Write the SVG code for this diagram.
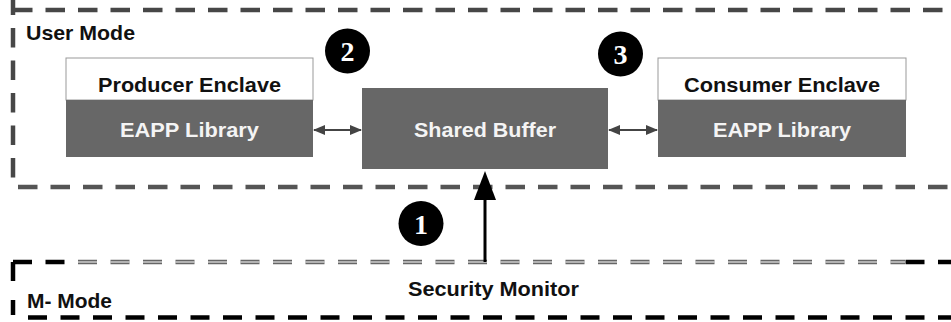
<svg xmlns="http://www.w3.org/2000/svg" width="951" height="322" viewBox="0 0 951 322">
<style>
text{font-family:"Liberation Sans",Arial,sans-serif;font-weight:bold;font-size:21px}
.dark{fill:#f4f4f4}
.title{fill:#111}
.num{font-family:"Liberation Serif","Times New Roman",serif;font-size:28px;fill:#fff}
.udash{stroke:#474747;stroke-width:4.5;stroke-dasharray:19.5 13;fill:none}
.mdash{stroke:#000;stroke-width:4.5;stroke-dasharray:19 13.5;fill:none}
.mdbl{stroke:#666;stroke-width:4.5;stroke-dasharray:19 13.5;fill:none}
.mdblin{stroke:#fff;stroke-width:1.2;stroke-dasharray:19 13.5;fill:none}
.box{fill:#676767}
.conn{stroke:#444;stroke-width:2;fill:none}
</style>
<defs>
<marker id="ah" viewBox="0 0 12 10" refX="11" refY="5" markerWidth="12" markerHeight="10" markerUnits="userSpaceOnUse" orient="auto-start-reverse">
<path d="M0,0 L12,5 L0,10 z" fill="#444"/>
</marker>
</defs>
<rect width="951" height="322" fill="#fff"/>
<g id="user-mode">
<line class="udash" x1="13" y1="10" x2="951" y2="10"/>
<line class="udash" x1="13" y1="-4.5" x2="13" y2="187"/>
<line class="udash" x1="18" y1="187" x2="951" y2="187" style="stroke:#555"/>
<text x="26" y="40" class="title" textLength="109" lengthAdjust="spacingAndGlyphs">User Mode</text>
</g>
<g id="m-mode">
<line class="mdash" x1="13" y1="262" x2="70" y2="262"/>
<line class="mdbl" x1="78" y1="262" x2="905" y2="262"/>
<line class="mdblin" x1="78" y1="262" x2="905" y2="262"/>
<line class="mdash" x1="905.5" y1="262" x2="951" y2="262"/>
<line class="mdash" x1="13" y1="262" x2="13" y2="283"/>
<line class="mdash" x1="13" y1="300" x2="13" y2="315"/>
<line class="mdash" x1="28" y1="317.5" x2="951" y2="317.5"/>
<text x="27" y="308" class="title" textLength="85" lengthAdjust="spacingAndGlyphs">M- Mode</text>
<text x="493.5" y="296" class="title" text-anchor="middle" textLength="171" lengthAdjust="spacingAndGlyphs">Security Monitor</text>
</g>
<g id="producer">
<rect x="66" y="58" width="247" height="42" fill="#fff" stroke="#999" stroke-width="1"/>
<rect x="66" y="100" width="247" height="57" class="box"/>
<text x="189.5" y="92" class="title" text-anchor="middle" textLength="183" lengthAdjust="spacingAndGlyphs">Producer Enclave</text>
<text x="189.5" y="137" class="dark" text-anchor="middle" textLength="139" lengthAdjust="spacingAndGlyphs">EAPP Library</text>
</g>
<g id="shared-buffer">
<rect x="362" y="88" width="246" height="81" class="box"/>
<text x="485" y="137" class="dark" text-anchor="middle" textLength="142" lengthAdjust="spacingAndGlyphs">Shared Buffer</text>
</g>
<g id="consumer">
<rect x="658" y="58" width="248" height="42" fill="#fff" stroke="#999" stroke-width="1"/>
<rect x="658" y="100" width="248" height="57" class="box"/>
<text x="782" y="92" class="title" text-anchor="middle" textLength="196" lengthAdjust="spacingAndGlyphs">Consumer Enclave</text>
<text x="782" y="137" class="dark" text-anchor="middle" textLength="138" lengthAdjust="spacingAndGlyphs">EAPP Library</text>
</g>
<g id="badge-1">
<circle cx="421" cy="223.5" r="22.5" fill="#000"/>
<text x="421" y="233.5" class="num" text-anchor="middle">1</text>
</g>
<g id="badge-2">
<circle cx="347.5" cy="51" r="22.5" fill="#000"/>
<text x="347.5" y="61" class="num" text-anchor="middle">2</text>
</g>
<g id="badge-3">
<circle cx="620.5" cy="54" r="22.5" fill="#000"/>
<text x="620.5" y="64" class="num" text-anchor="middle">3</text>
</g>
<g id="connectors">
<line class="conn" x1="314" y1="130" x2="361" y2="130" marker-start="url(#ah)" marker-end="url(#ah)"/>
<line class="conn" x1="609" y1="130" x2="657" y2="130" marker-start="url(#ah)" marker-end="url(#ah)"/>
<line x1="485" y1="262" x2="485" y2="198" stroke="#000" stroke-width="3"/>
<polygon points="485,171 474,200 496,200" fill="#000"/>
</g>
</svg>
